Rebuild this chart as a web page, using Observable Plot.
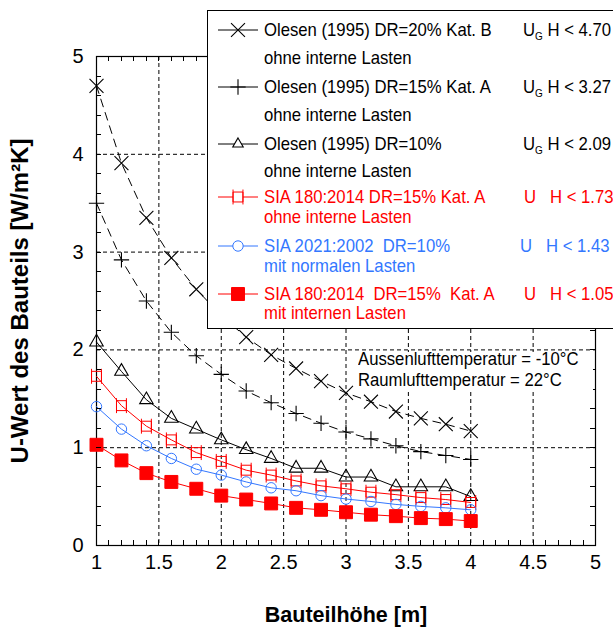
<!DOCTYPE html>
<html>
<head>
<meta charset="utf-8">
<script src="https://cdn.jsdelivr.net/npm/d3@7"></script>
<script src="https://cdn.jsdelivr.net/npm/@observablehq/plot@0.6"></script>
<style>
  html, body { margin: 0; padding: 0; background: #fff; }
  body { width: 613px; height: 627px; overflow: hidden; }
  #wrap { position: relative; width: 613px; height: 627px; font-family: "Liberation Sans", Arial, sans-serif; }
  #chart { position: absolute; left: 0; top: 0; }
  #ticks { position: absolute; left: 0; top: 0; pointer-events: none; }
  .box { position: absolute; background: #fff; box-sizing: border-box; }
  .t { position: absolute; white-space: pre; font-size: 16.7px; line-height: 20px; transform: scaleY(1.1); transform-origin: left center; }
  .t sub { font-size: 10px; vertical-align: -4px; line-height: 0; }
  .sym { position: absolute; overflow: visible; }
</style>
</head>
<body>
<div id="wrap"></div>
<script>
// ---------- data ----------
const H = [1.0, 1.2, 1.4, 1.6, 1.8, 2.0, 2.2, 2.4, 2.6, 2.8, 3.0, 3.2, 3.4, 3.6, 3.8, 4.0];
const olesen20 = [4.70, 3.91, 3.35, 2.94, 2.62, 2.35, 2.13, 1.95, 1.81, 1.68, 1.56, 1.47, 1.37, 1.30, 1.24, 1.17];
const olesen15 = [3.50, 2.92, 2.50, 2.18, 1.94, 1.75, 1.58, 1.46, 1.35, 1.25, 1.16, 1.09, 1.02, 0.96, 0.92, 0.88];
const olesen10 = [2.08, 1.78, 1.49, 1.30, 1.19, 1.08, 0.98, 0.89, 0.79, 0.79, 0.70, 0.70, 0.60, 0.60, 0.60, 0.50];
const sia180ohne = [1.73, 1.43, 1.22, 1.08, 0.95, 0.86, 0.77, 0.72, 0.66, 0.61, 0.58, 0.545, 0.52, 0.49, 0.47, 0.44];
const sia2021 = [1.42, 1.19, 1.02, 0.89, 0.78, 0.72, 0.65, 0.59, 0.56, 0.51, 0.475, 0.45, 0.42, 0.40, 0.385, 0.365];
const sia180mit = [1.03, 0.87, 0.74, 0.65, 0.58, 0.51, 0.47, 0.43, 0.385, 0.365, 0.34, 0.315, 0.30, 0.28, 0.27, 0.25];

const seriesNames = [
  "Olesen (1995) DR=20% Kat. B",
  "Olesen (1995) DR=15% Kat. A",
  "Olesen (1995) DR=10%",
  "SIA 180:2014 DR=15% Kat. A",
  "SIA 2021:2002  DR=10%",
  "SIA 180:2014  DR=15%  Kat. A"
];
const seriesSub = [
  "ohne interne Lasten",
  "ohne interne Lasten",
  "ohne interne Lasten",
  "ohne interne Lasten",
  "mit normalen Lasten",
  "mit internen Lasten"
];
const limits = ["4.70", "3.27", "2.09", "1.73", "1.43", "1.05"];
const limitSub = ["G", "G", "G", "", "", ""];
const seriesValues = [olesen20, olesen15, olesen10, sia180ohne, sia2021, sia180mit];

const xTicks = [1, 1.5, 2, 2.5, 3, 3.5, 4, 4.5, 5];
const yTicks = [0, 1, 2, 3, 4, 5];
const xGrid = [1.5, 2, 2.5, 3, 3.5, 4, 4.5];
const yGrid = [1, 2, 3, 4];
const xMinor = [1.1,1.2,1.3,1.4,1.5,1.6,1.7,1.8,1.9,2.0,2.1,2.2,2.3,2.4,2.5,2.6,2.7,2.8,2.9,3.0,3.1,3.2,3.3,3.4,3.5,3.6,3.7,3.8,3.9,4.0,4.1,4.2,4.3,4.4,4.5,4.6,4.7,4.8,4.9];
const yMinor = [0.2,0.4,0.6,0.8,1.0,1.2,1.4,1.6,1.8,2.0,2.2,2.4,2.6,2.8,3.0,3.2,3.4,3.6,3.8,4.0,4.2,4.4,4.6,4.8];

const noteLines = ["Aussenlufttemperatur = -10°C", "Raumlufttemperatur = 22°C"];
const xTitle = "Bauteilhöhe [m]";
const yTitle = "U-Wert des Bauteils [W/m²K]";

// ---------- layout / styles ----------
const W = 613, HGT = 627, ML = 96, MR = 18, MT = 56, MB = 82;
const TICK = 5;
const RED = "#ff0000", BLUE = "#3377ff", BLACK = "#000000";
const whiskerSquare = {
  draw(ctx, size) {
    const s = Math.sqrt(size) / 2, e = s + 2.5;
    ctx.moveTo(-s, -s); ctx.lineTo(s, -s); ctx.lineTo(s, s); ctx.lineTo(-s, s); ctx.closePath();
    ctx.moveTo(-s, -e); ctx.lineTo(-s, e);
    ctx.moveTo(s, -e); ctx.lineTo(s, e);
  }
};
const styles = [
  {color: BLACK, dash: "8,6", symbol: d3.symbolTimes, plotSymbol: "times", r: 6.4, fill: "none", sw: 1.1},
  {color: BLACK, dash: "8,6", symbol: d3.symbolPlus, plotSymbol: "plus", r: 5.0, fill: "none", sw: 1.1},
  {color: BLACK, dash: null, symbol: d3.symbolTriangle2, plotSymbol: "triangle", r: 5.0, fill: "none", sw: 1.1},
  {color: RED, dash: null, symbol: whiskerSquare, plotSymbol: whiskerSquare, r: 5.6, fill: "none", sw: 1},
  {color: BLUE, dash: null, symbol: d3.symbolCircle, plotSymbol: "circle", r: 5.2, fill: "none", sw: 1},
  {color: RED, dash: null, symbol: d3.symbolSquare, plotSymbol: "square", r: 7.3, fill: RED, sw: 1}
];

const table = [];
seriesNames.forEach((name, i) => {
  H.forEach((h, j) => table.push({series: name, idx: i, H: h, U: seriesValues[i][j]}));
});

const marks = [
  Plot.ruleX(xGrid, {stroke: "black", strokeDasharray: "4,3", strokeWidth: 1}),
  Plot.ruleY(yGrid, {stroke: "black", strokeDasharray: "4,3", strokeWidth: 1}),
  Plot.frame({stroke: "black", strokeWidth: 1.2}),
  Plot.axisX(xTicks, {anchor: "bottom", tickSize: 0, tickPadding: 9, tickFormat: d => String(d), label: null, fontSize: 20}),
  Plot.axisY(yTicks, {anchor: "left", tickSize: 0, tickPadding: 13, tickFormat: d => String(d), label: null, fontSize: 20}),
  Plot.text([xTitle], {text: d => d, frameAnchor: "bottom", dy: 70, textAnchor: "middle", lineAnchor: "middle", fontWeight: "bold", fontSize: 21.5}),
  Plot.text([yTitle], {text: d => d, frameAnchor: "left", dx: -76, rotate: -90, textAnchor: "middle", lineAnchor: "middle", fontWeight: "bold", fontSize: 24})
];
styles.forEach((s, i) => {
  const rows = table.filter(d => d.idx === i);
  marks.push(Plot.line(rows, {x: "H", y: "U", stroke: s.color, strokeWidth: 1, strokeDasharray: s.dash || undefined}));
});
styles.forEach((s, i) => {
  const rows = table.filter(d => d.idx === i);
  marks.push(Plot.dot(rows, {x: "H", y: "U", symbol: () => s.plotSymbol, r: s.r, stroke: s.color, fill: s.fill, strokeWidth: s.sw}));
});

const chart = Plot.plot({
  width: W, height: HGT,
  marginLeft: ML, marginRight: MR, marginTop: MT, marginBottom: MB,
  x: {domain: [1, 5]},
  y: {domain: [0, 5]},
  symbol: {type: "identity"},
  style: {fontFamily: "'Liberation Sans', Arial, sans-serif", fontSize: "20px", background: "white", color: "black", overflow: "visible"},
  marks
});
chart.id = "chart";
const wrap = document.getElementById("wrap");
wrap.appendChild(chart);

// ---------- inward minor ticks: separate overlay layer placed with the plot's scales ----------
let sx, sy;
try { sx = chart.scale("x"); sy = chart.scale("y"); } catch (e) { sx = null; sy = null; }
const fx = (sx && sx.apply) ? (v => sx.apply(v)) : d3.scaleLinear([1, 5], [ML, W - MR]);
const fy = (sy && sy.apply) ? (v => sy.apply(v)) : d3.scaleLinear([0, 5], [HGT - MB, MT]);
const xl = fx(1), xr = fx(5), yb = fy(0), yt = fy(5);
const tickSvg = d3.create("svg").attr("id", "ticks").attr("width", W).attr("height", HGT);
const tg = tickSvg.append("g").attr("stroke", "#000").attr("stroke-width", 1).attr("fill", "none");
xMinor.forEach(v => {
  const px = Math.round(fx(v)) + 0.5;
  tg.append("path").attr("d", `M${px},${yb}V${yb - TICK}M${px},${yt}V${yt + TICK}`);
});
yMinor.forEach(v => {
  const py = Math.round(fy(v)) + 0.5;
  tg.append("path").attr("d", `M${xl},${py}H${xl + TICK}M${xr},${py}H${xr - TICK}`);
});
wrap.appendChild(tickSvg.node());

// ---------- legend (HTML overlay) ----------
const legendBox = document.createElement("div");
legendBox.className = "box";
Object.assign(legendBox.style, {left: "207px", top: "10px", width: "440px", height: "319px", border: "1.2px solid #000"});
wrap.appendChild(legendBox);

const mainY = [30, 87, 144, 197, 246, 294];
const subY = [58, 115, 171, 217, 266, 313];
const limitX = [523, 523, 523, 524, 520, 524];
const textColors = [BLACK, BLACK, BLACK, RED, BLUE, RED];
function addText(str, x, y, color, html) {
  const d = document.createElement("div");
  d.className = "t";
  d.style.left = x + "px";
  d.style.top = (y - 10) + "px";
  d.style.color = color;
  if (html) d.innerHTML = str; else d.textContent = str;
  wrap.appendChild(d);
}
seriesNames.forEach((name, i) => {
  const s = styles[i];
  const svg = d3.create("svg").attr("class", "sym").attr("width", 50).attr("height", 24)
    .style("left", "213px").style("top", (mainY[i] - 12) + "px");
  svg.append("line").attr("x1", 5).attr("x2", 45).attr("y1", 12).attr("y2", 12)
    .attr("stroke", s.color).attr("stroke-width", 1);
  svg.append("path").attr("transform", "translate(25,12)")
    .attr("d", d3.symbol(s.symbol, s.r * s.r * Math.PI)())
    .attr("stroke", s.color).attr("fill", s.fill === "none" ? "white" : s.fill).attr("stroke-width", s.sw);
  wrap.appendChild(svg.node());
  addText(name, 264, mainY[i], textColors[i]);
  addText(seriesSub[i], 264, subY[i], textColors[i]);
  const sub = limitSub[i] ? "<sub>" + limitSub[i] + "</sub>" : "  ";
  addText("U" + sub + " H &lt; " + limits[i], limitX[i], mainY[i], textColors[i], true);
});

// ---------- annotation ----------
const noteBox = document.createElement("div");
noteBox.className = "box";
Object.assign(noteBox.style, {left: "355px", top: "352px", width: "238px", height: "40px"});
wrap.appendChild(noteBox);
addText(noteLines[0], 358, 359, BLACK);
addText(noteLines[1], 358, 380, BLACK);
</script>
</body>
</html>
